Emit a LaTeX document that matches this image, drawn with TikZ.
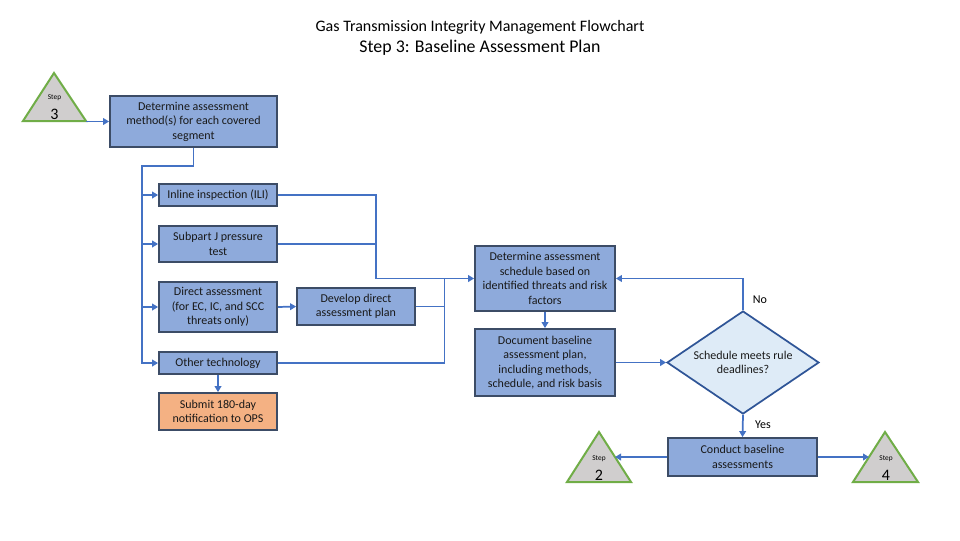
\documentclass[tikz,border=0pt]{standalone}
\usepackage{fontspec}
\setmainfont{Carlito}
\usetikzlibrary{shapes.geometric,arrows.meta,calc}
\definecolor{boxblue}{HTML}{8EAADB}
\definecolor{boxedge}{HTML}{3C4C66}
\definecolor{lineblue}{HTML}{4472C4}
\definecolor{boxorange}{HTML}{F4B183}
\definecolor{diafill}{HTML}{DEEBF7}
\definecolor{diaedge}{HTML}{2F5597}
\definecolor{trifill}{HTML}{D0CECE}
\definecolor{triedge}{HTML}{70AD47}
\tikzset{
  boxtext/.style={font=\fontsize{9}{10.9}\selectfont, text=black!90, align=center, inner sep=1pt},
  proc/.style={boxtext, draw=boxedge, fill=boxblue, line width=1.3pt},
  orangebox/.style={proc, fill=boxorange},
  decision/.style={boxtext, diamond, aspect=1.48, draw=diaedge, fill=diafill, line width=1.3pt, inner sep=0pt},
  conn/.style={draw=lineblue, line width=1.3pt},
  arr/.style={conn, -{Triangle[length=4.5pt,width=5pt]}},
  stepbox/.style={draw=triedge, fill=trifill, line width=1.5pt, line join=miter},
  stepword/.style={font=\fontsize{5.5}{6}\selectfont, inner sep=0pt},
  stepnum/.style={font=\fontsize{12}{13}\selectfont, inner sep=0pt},
  lbl/.style={font=\fontsize{9}{10}\selectfont, inner sep=0pt}
}
\begin{document}
\begin{tikzpicture}[x=0.75pt,y=-0.75pt]
\useasboundingbox (0,0) rectangle (960,540);
% titles
\node[font=\fontsize{12}{13}\selectfont] (t1) at (480,27) {Gas Transmission Integrity Management Flowchart};
\node[font=\fontsize{13.4}{15}\selectfont] (t2) at (480,48) {Step 3: Baseline Assessment Plan};

% step triangles
\draw[stepbox] (54,73) -- (86,121) -- (23,121) -- cycle;
\node[stepword] (s3w) at (54.5,98) {Step};
\node[stepnum] (s3n) at (54.5,114) {3};
\coordinate (s3out) at (86,121.5);

\draw[stepbox] (599,432) -- (631,482) -- (567,482) -- cycle;
\node[stepword] (s2w) at (599,459) {Step};
\node[stepnum] (s2n) at (599,475) {2};
\coordinate (s2in) at (615,457);

\draw[stepbox] (885,432) -- (918,482) -- (853,482) -- cycle;
\node[stepword] (s4w) at (886,459) {Step};
\node[stepnum] (s4n) at (886,475) {4};
\coordinate (s4in) at (869,457);

% process boxes
\node[proc, minimum width=125.25pt, minimum height=38.25pt] (b1) at (193.5,121.5) {Determine assessment\\method(s) for each covered\\segment};
\node[proc, minimum width=88.5pt, minimum height=16.5pt] (ili) at (218,195) {Inline inspection (ILI)};
\node[proc, minimum width=88.5pt, minimum height=27pt] (sub) at (218,244) {Subpart J pressure\\test};
\node[proc, minimum width=88.5pt, minimum height=37.5pt] (dir) at (218,307) {Direct assessment\\(for EC, IC, and SCC\\threats only)};
\node[proc, minimum width=88.5pt, minimum height=16.5pt] (oth) at (218,363) {Other technology};
\node[orangebox, minimum width=88.5pt, minimum height=27.75pt] (sbm) at (218,411.5) {Submit 180-day\\notification to OPS};
\node[proc, minimum width=88.5pt, minimum height=27.75pt] (dev) at (356,306.5) {Develop direct\\assessment plan};
\node[proc, minimum width=105pt, minimum height=48.75pt] (sch) at (545,278.5) {Determine assessment\\schedule based on\\identified threats and risk\\factors};
\node[proc, minimum width=105pt, minimum height=50.25pt] (doc) at (545,362.5) {Document baseline\\assessment plan,\\including methods,\\schedule, and risk basis};
\node[decision, minimum width=114pt, minimum height=77.25pt] (dia) at (743,362.5) {Schedule meets rule\\deadlines?};
\node[proc, minimum width=111.75pt, minimum height=28.5pt] (con) at (742.5,457) {Conduct baseline\\assessments};

% connectors
\draw[arr] (s3out) -- (b1.west);
\coordinate (tr) at (142,166);
\draw[arr] (b1.south) |- (tr) -- (tr |- oth.west) -- (oth.west);
\draw[arr] (tr |- ili.west) -- (ili.west);
\draw[arr] (tr |- sub.west) -- (sub.west);
\draw[arr] (tr |- dir.west) -- (dir.west);
\draw[arr] (oth.south) -- (sbm.north);
\draw[arr] (dir.east) -- (dev.west);

\coordinate (j1) at (376,278.5);
\coordinate (j2) at (444.5,278.5);
\draw[arr] (ili.east) -| (j1) -- (sch.west);
\draw[conn] (sub.east) -- (sub.east -| j1);
\draw[conn] (oth.east) -| (j2);
\draw[conn] (dev.east) -- (dev.east -| j2);

\draw[arr] (sch.south) -- (doc.north);
\draw[arr] (doc.east) -- (dia.west);
\draw[arr] (dia.north) |- (sch.east);
\draw[arr] (dia.south) -- (con.north);
\draw[arr] (con.west) -- (s2in);
\draw[arr] (con.east) -- (s4in);

\node[lbl] (no) at (760,300) {No};
\node[lbl] (yes) at (763,425) {Yes};
\end{tikzpicture}
\end{document}
